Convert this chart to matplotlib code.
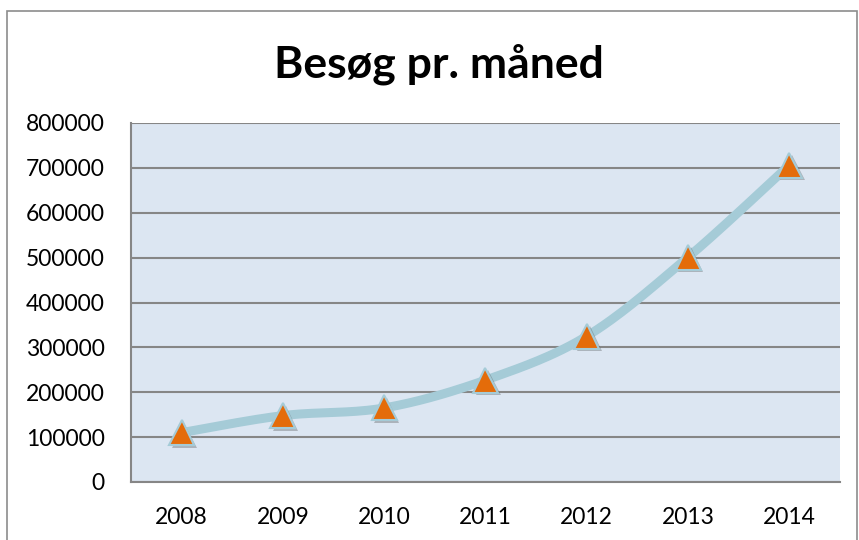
import matplotlib.pyplot as plt
import matplotlib.patheffects as pe
from matplotlib.patches import Rectangle
import numpy as np

years = ["2008", "2009", "2010", "2011", "2012", "2013", "2014"]
visits = [110000, 148000, 165000, 227000, 325000, 501000, 706000]
y_ticks = [0, 100000, 200000, 300000, 400000, 500000, 600000, 700000, 800000]

plt.rcParams["font.family"] = ["Lato", "DejaVu Sans"]


def smooth_curve(xs, ys, steps=30):
    # Excel-style smoothed line: cubic Bezier segments through the points
    xs = np.asarray(xs, dtype=float)
    ys = np.asarray(ys, dtype=float)
    n = len(xs)
    out_x, out_y = [], []
    t = np.linspace(0, 1, steps)
    for i in range(n - 1):
        p0 = np.array([xs[max(i - 1, 0)], ys[max(i - 1, 0)]])
        p1 = np.array([xs[i], ys[i]])
        p2 = np.array([xs[i + 1], ys[i + 1]])
        p3 = np.array([xs[min(i + 2, n - 1)], ys[min(i + 2, n - 1)]])
        c1 = p1 + (p2 - p0) / 6.0
        c2 = p2 - (p3 - p1) / 6.0
        pts = ((1 - t) ** 3)[:, None] * p1 + (3 * (1 - t) ** 2 * t)[:, None] * c1 \
            + (3 * (1 - t) * t ** 2)[:, None] * c2 + (t ** 3)[:, None] * p2
        out_x.extend(pts[:, 0])
        out_y.extend(pts[:, 1])
    return np.array(out_x), np.array(out_y)


fig = plt.figure(figsize=(8.59, 5.4), dpi=100)
ax = fig.add_axes([131 / 859, 1 - 482 / 540, (840 - 131) / 859, (482 - 123) / 540])

# outer chart border
fig.patches.append(Rectangle((7 / 859, -0.01), 850 / 859, 1 - 11 / 540 + 0.01,
                             transform=fig.transFigure, fill=False,
                             edgecolor="#8c8c8c", linewidth=1.2))

ax.set_facecolor("#dce6f2")
x = np.arange(len(years))
sx, sy = smooth_curve(x, visits)
ax.plot(sx, sy, color="#a5cbd7", linewidth=6.5, solid_capstyle="round", zorder=3)
ax.plot(x, visits, linestyle="none", marker="^", markersize=18,
        markerfacecolor="#e46c0a", markeredgecolor="#a5cbd7", markeredgewidth=1.5,
        zorder=4,
        path_effects=[pe.SimplePatchShadow(offset=(2, -2), shadow_rgbFace="#555555", alpha=0.35),
                      pe.Normal()])

ax.set_xlim(-0.5, len(years) - 0.5)
ax.set_ylim(0, 800000)
ax.set_xticks(x)
ax.set_xticklabels(years)
ax.set_yticks(y_ticks)
ax.set_yticklabels([str(v) for v in y_ticks])
ax.tick_params(axis="both", length=0, labelsize=16.5, colors="black")
ax.tick_params(axis="y", pad=19)
ax.tick_params(axis="x", pad=18)

ax.grid(axis="y", color="#868686", linewidth=1.5)
ax.set_axisbelow(True)
for side in ["top", "right"]:
    ax.spines[side].set_visible(False)
for side in ["left", "bottom"]:
    ax.spines[side].set_color("#868686")
    ax.spines[side].set_linewidth(1.5)

fig.text(439 / 859, 1 - 64 / 540, "Besøg pr. måned", ha="center", va="center",
         fontsize=32, fontweight="bold")

fig.savefig("out.png", dpi=100)
